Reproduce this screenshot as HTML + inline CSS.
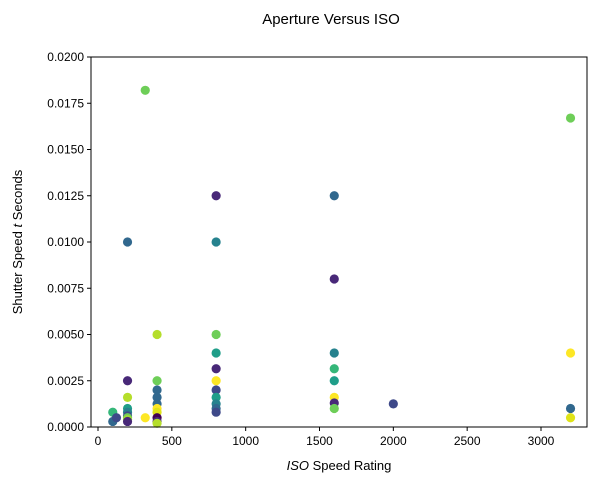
<!DOCTYPE html>
<html><head><meta charset="utf-8"><style>body{margin:0;background:#fff}svg{font-family:"Liberation Sans","DejaVu Sans",sans-serif}</style></head>
<body>
<svg id="c" width="597" height="484"></svg>
<script>
const isoValues=[100,100,125,200,200,200,200,200,200,200,200,200,320,320,400,400,400,400,400,400,400,400,400,400,800,800,800,800,800,800,800,800,800,800,800,1600,1600,1600,1600,1600,1600,1600,1600,2000,3200,3200,3200,3200];
const shutterValues=[0.0008,0.0003,0.0005,0.01,0.0025,0.0016,0.001,0.0008,0.0006,0.0005,0.0004,0.0003,0.0182,0.0005,0.005,0.0025,0.002,0.0016,0.00125,0.001,0.0008,0.0005,0.0003,0.0002,0.0125,0.01,0.005,0.004,0.00315,0.0025,0.002,0.0016,0.00125,0.001,0.0008,0.0125,0.008,0.004,0.00315,0.0025,0.0016,0.0013,0.001,0.00125,0.0167,0.004,0.001,0.0005];
const pointColors=["#35b779","#31688e","#3e4989","#31688e","#482878","#b5de2b","#1f9e89","#26828e","#3e4989","#6ece58","#9fd938","#482878","#6ece58","#fde725","#b5de2b","#6ece58","#31688e","#31688e","#31688e","#fde725","#dfe318","#440154","#482878","#b5de2b","#482878","#26828e","#6ece58","#1f9e89","#482878","#fde725","#3e4989","#1f9e89","#26828e","#31688e","#3e4989","#31688e","#482878","#26828e","#35b779","#1f9e89","#fde725","#482878","#6ece58","#3e4989","#6ece58","#fde725","#31688e","#dfe318"];
const xTicks=[0,500,1000,1500,2000,2500,3000];
const yTicks=[0,0.0025,0.005,0.0075,0.01,0.0125,0.015,0.0175,0.02];
const yTickLabels=["0.0000","0.0025","0.0050","0.0075","0.0100","0.0125","0.0150","0.0175","0.0200"];
const L=91,R=587,T=57,B=427;
const xs=v=>98+v*(443/3000);
const ys=v=>B-(v/0.02)*(B-T);
const svg=document.getElementById('c');const NS='http://www.w3.org/2000/svg';
function mk(t,a,p){const e=document.createElementNS(NS,t);for(const k in a)e.setAttribute(k,a[k]);(p||svg).appendChild(e);return e;}
let t=mk('text',{x:331,y:24,'text-anchor':'middle','font-size':15});t.textContent='Aperture Versus ISO';


const pts=mk('g',{});


isoValues.forEach((v,i)=>{const c=mk('circle',{cx:xs(v),cy:ys(shutterValues[i]),r:4.6,fill:pointColors[i]},pts);

});
const fr=mk('rect',{x:L,y:T,width:R-L,height:B-T,fill:'none',stroke:'#000','stroke-width':1});


xTicks.forEach(v=>{const x=xs(v);mk('line',{x1:x,x2:x,y1:B,y2:B+4,stroke:'#000'});
const l=mk('text',{x:x,y:B+18,'text-anchor':'middle','font-size':12});l.textContent=v;

});
yTicks.forEach((v,i)=>{const y=ys(v);mk('line',{x1:L-4,x2:L,y1:y,y2:y,stroke:'#000'});
const l=mk('text',{x:L-7,y:y+4,'text-anchor':'end','font-size':12});l.textContent=yTickLabels[i];

});
const xt=mk('text',{x:339,y:470,'text-anchor':'middle','font-size':13});xt.innerHTML='<tspan font-style="italic">ISO</tspan> Speed Rating';


const yt=mk('text',{x:22,y:242,'text-anchor':'middle','font-size':13,transform:'rotate(-90 22 242)'});yt.innerHTML='Shutter Speed <tspan font-style="italic">t</tspan> Seconds';


</script>
</body></html>
